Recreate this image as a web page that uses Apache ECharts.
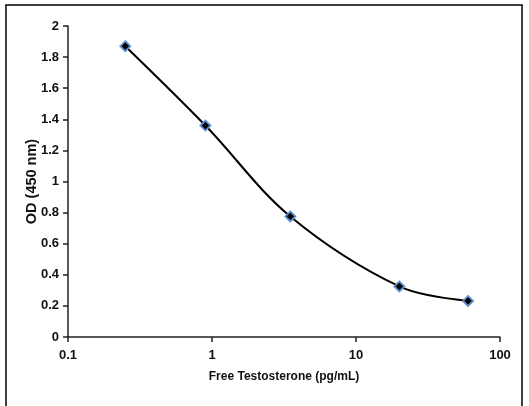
<!DOCTYPE html>
<html><head><meta charset="utf-8">
<script src="https://cdn.jsdelivr.net/npm/echarts@6/dist/echarts.min.js"></script>
<style>html,body{margin:0;padding:0;background:#fff}#c{width:529px;height:406px}</style>
</head><body><div id="c"></div>
<script>
const concentrations = [0.25, 0.9, 3.5, 20, 60];
const odValues = [1.87, 1.36, 0.775, 0.325, 0.232];
const xAxisTitle = 'Free Testosterone (pg/mL)';
const yAxisTitle = 'OD (450 nm)';
const font = '"Liberation Sans Narrow", "Liberation Sans", Arial, sans-serif';

const chart = echarts.init(document.getElementById('c'), null, {renderer: 'canvas'});
chart.setOption({
  animation: false,
  graphic: [{type: 'rect', shape: {x: 6, y: 5, width: 516, height: 420}, style: {fill: 'none', stroke: '#000', lineWidth: 1.5}, silent: true}],
  grid: {left: 68, right: 29, top: 26, bottom: 69, containLabel: false},
  xAxis: {
    type: 'log', logBase: 10, min: 0.1, max: 100,
    name: xAxisTitle, nameLocation: 'middle', nameGap: 34, nameMoveOverlap: false,
    nameTextStyle: {fontFamily: font, fontWeight: 'bold', fontSize: 12, color: '#111'},
    axisLine: {lineStyle: {color: '#222', width: 1.5}},
    axisTick: {show: true, length: 5, lineStyle: {color: '#222', width: 1.5}},
    minorTick: {show: false},
    splitLine: {show: false},
    axisLabel: {fontFamily: font, fontWeight: 'bold', fontSize: 13, color: '#111', margin: 12,
      formatter: v => String(+v.toPrecision(3))}
  },
  yAxis: {
    type: 'value', min: 0, max: 2, interval: 0.2,
    name: yAxisTitle, nameLocation: 'middle', nameGap: 29, nameRotate: 90, nameMoveOverlap: false,
    nameTextStyle: {fontFamily: font, fontWeight: 'bold', fontSize: 14.5, color: '#111'},
    axisLine: {show: true, lineStyle: {color: '#222', width: 1.5}},
    axisTick: {show: true, length: 5, lineStyle: {color: '#222', width: 1.5}},
    splitLine: {show: false},
    axisLabel: {fontFamily: font, fontWeight: 'bold', fontSize: 13, color: '#111', margin: 9,
      formatter: v => String(+v.toFixed(1))}
  },
  series: [{
    type: 'line',
    data: concentrations.map((c, i) => [c, odValues[i]]),
    smooth: 0.35,
    lineStyle: {color: '#000', width: 2},
    symbol: 'diamond', symbolSize: 10,
    itemStyle: {color: '#000', borderColor: '#5b8fd0', borderWidth: 1.8}
  }]
});
</script></body></html>
